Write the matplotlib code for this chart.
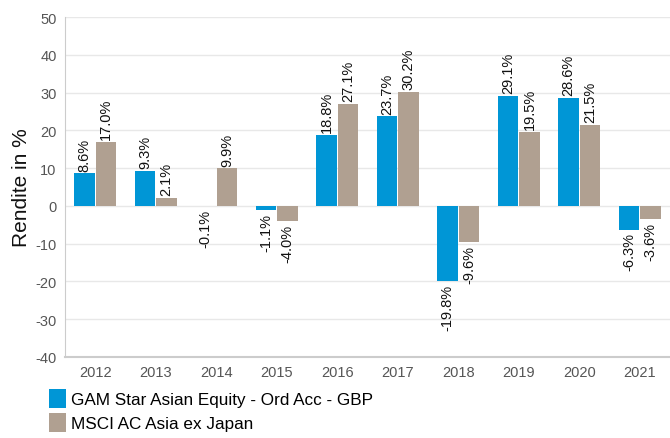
import numpy as np
import matplotlib.pyplot as plt

plt.rcParams['font.family'] = ['Liberation Sans', 'DejaVu Sans']
plt.rcParams['axes.unicode_minus'] = False

years = ['2012', '2013', '2014', '2015', '2016', '2017', '2018', '2019', '2020', '2021']
fund = [8.6, 9.3, -0.1, -1.1, 18.8, 23.7, -19.8, 29.1, 28.6, -6.3]
index = [17.0, 2.1, 9.9, -4.0, 27.1, 30.2, -9.6, 19.5, 21.5, -3.6]
fund_name = 'GAM Star Asian Equity - Ord Acc - GBP'
index_name = 'MSCI AC Asia ex Japan'

blue = '#0096d6'
brown = '#b0a091'

fig = plt.figure(figsize=(6.7, 4.39), dpi=100)
ax = fig.add_axes([65 / 670, 1 - 358 / 439, 605 / 670, 340 / 439])

x = np.arange(len(years))
w = 0.345
b1 = ax.bar(x - w / 2 - 0.005, fund, w, color=blue, label=fund_name, zorder=3)
b2 = ax.bar(x + w / 2 + 0.005, index, w, color=brown, label=index_name, zorder=3)

for bars, vals in [(b1, fund), (b2, index)]:
    for rect, v in zip(bars, vals):
        cx = rect.get_x() + rect.get_width() / 2
        if v >= 0:
            ax.annotate(f'{v:.1f}%', (cx, v), xytext=(0, 2), textcoords='offset points',
                        rotation=90, ha='center', va='bottom', fontsize=10.5, color='#111111')
        else:
            ax.annotate(f'{v:.1f}%', (cx, v), xytext=(0, -2), textcoords='offset points',
                        rotation=90, ha='center', va='top', fontsize=10.5, color='#111111')

ax.set_xlim(-0.5, len(years) - 0.5)
ax.set_ylim(-40, 50)
ax.set_yticks(range(-40, 51, 10))
ax.set_xticks(x)
ax.set_xticklabels(years)
ax.tick_params(axis='both', length=0, labelsize=10.5, labelcolor='#555555', pad=6)
ax.grid(axis='y', color='#e8e8e8', linewidth=1, zorder=0)
ax.set_axisbelow(True)
for s in ['top', 'right']:
    ax.spines[s].set_visible(False)
ax.spines['left'].set_color('#cccccc')
ax.spines['bottom'].set_color('#cccccc')
ax.spines['bottom'].set_linewidth(1.5)
ax.set_ylabel('Rendite in %', fontsize=15, color='#111111', labelpad=3)

ax.legend(loc='upper left', bbox_to_anchor=(-0.027, -0.095), frameon=False, fontsize=12.3,
          handlelength=1.0, handleheight=1.3, handletextpad=0.3, labelspacing=0.3,
          borderaxespad=0, borderpad=0)

fig.savefig('out.png', dpi=100)
